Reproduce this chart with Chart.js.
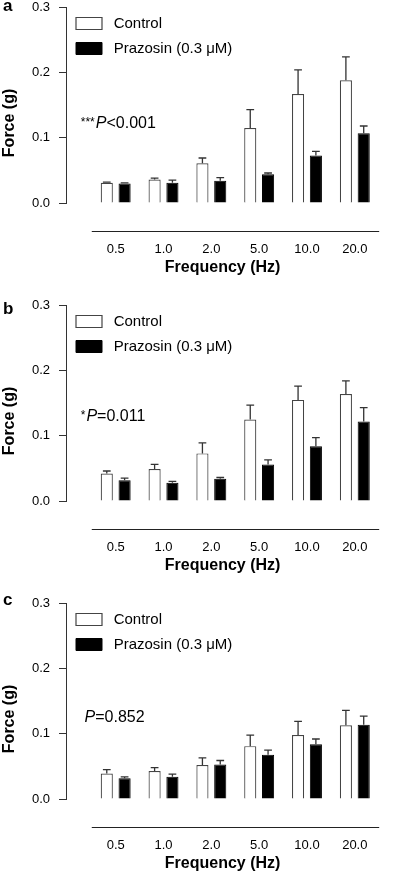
<!DOCTYPE html>
<html>
<head>
<meta charset="utf-8">
<script src="https://cdn.jsdelivr.net/npm/chart.js@4"></script>
<style>
  html, body { margin: 0; padding: 0; background: #fff; overflow: hidden; }
  .panel { position: absolute; left: 0; width: 407px; height: 298px; }
</style>
</head>
<body>
<div class="panel" style="top:0"><canvas id="chart-a" width="407" height="298"></canvas></div>
<div class="panel" style="top:298px"><canvas id="chart-b" width="407" height="298"></canvas></div>
<div class="panel" style="top:596px"><canvas id="chart-c" width="407" height="298"></canvas></div>
<script>
const freqLabels = ['0.5', '1.0', '2.0', '5.0', '10.0', '20.0'];
const seriesNames = [' Control', ' Prazosin (0.3 μM)'];

// panel a
const controlA = [0.031, 0.036, 0.061, 0.115, 0.167, 0.188];
const controlSemA = [0.001, 0.002, 0.008, 0.028, 0.037, 0.036];
const prazA = [0.030, 0.031, 0.034, 0.044, 0.073, 0.107];
const prazSemA = [0.001, 0.004, 0.005, 0.002, 0.006, 0.011];

// panel b
const controlB = [0.042, 0.049, 0.073, 0.125, 0.155, 0.164];
const controlSemB = [0.004, 0.007, 0.016, 0.022, 0.021, 0.020];
const prazB = [0.032, 0.028, 0.034, 0.056, 0.084, 0.122];
const prazSemB = [0.003, 0.002, 0.002, 0.007, 0.013, 0.021];

// panel c
const controlC = [0.039, 0.043, 0.052, 0.081, 0.098, 0.113];
const controlSemC = [0.006, 0.005, 0.011, 0.017, 0.021, 0.023];
const prazC = [0.032, 0.034, 0.053, 0.068, 0.084, 0.114];
const prazSemC = [0.002, 0.004, 0.006, 0.007, 0.008, 0.013];

const axisColor = '#333';
const font = 'Arial, "Liberation Sans", sans-serif';

// upper error bars (mean + SEM)
const errorBars = {
  id: 'errorBars',
  afterDatasetsDraw(chart) {
    const ctx = chart.ctx;
    const y = chart.scales.y;
    ctx.save();
    ctx.strokeStyle = axisColor;
    ctx.lineWidth = 1.3;
    chart.data.datasets.forEach((ds, di) => {
      chart.getDatasetMeta(di).data.forEach((bar, i) => {
        const top = y.getPixelForValue(ds.data[i].y + ds.sem[i]);
        const cap = bar.width * 0.32;
        ctx.beginPath();
        ctx.moveTo(bar.x, bar.y);
        ctx.lineTo(bar.x, top);
        ctx.moveTo(bar.x - cap, top);
        ctx.lineTo(bar.x + cap, top);
        ctx.stroke();
      });
    });
    ctx.restore();
  }
};

// detached x axis line, panel letter and P value text
const extras = {
  id: 'extras',
  afterDraw(chart, args, opts) {
    const ctx = chart.ctx;
    const x = chart.scales.x;
    const y = chart.scales.y;
    const area = chart.chartArea;
    ctx.save();
    ctx.strokeStyle = '#222';
    ctx.lineWidth = 1;
    const ly = Math.round(y.getPixelForValue(-0.043)) + 0.5;
    ctx.beginPath();
    ctx.moveTo(x.getPixelForValue(-0.5), ly);
    ctx.lineTo(area.right, ly);
    ctx.stroke();

    ctx.fillStyle = '#000';
    ctx.textBaseline = 'alphabetic';
    ctx.font = 'bold 17px ' + font;
    ctx.fillText(opts.letter, 3, area.top + opts.letterDy);

    let px = x.getPixelForValue(opts.pX);
    const py = y.getPixelForValue(opts.pY);
    if (opts.stars) {
      ctx.font = '12px ' + font;
      ctx.fillText(opts.stars, px, py - 2);
      px += ctx.measureText(opts.stars).width + 1;
    }
    ctx.font = 'italic 16px ' + font;
    ctx.fillText('P', px, py);
    px += ctx.measureText('P').width;
    ctx.font = '16px ' + font;
    ctx.fillText(opts.rest, px, py);
    ctx.restore();
  }
};

function makePanel(id, control, controlSem, praz, prazSem, extraOpts) {
  return new Chart(document.getElementById(id), {
    type: 'bar',
    data: {
      datasets: [{
        label: seriesNames[0],
        data: control.map((v, i) => ({x: i, y: v})),
        sem: controlSem,
        backgroundColor: '#fff',
        borderColor: '#444',
        borderWidth: 1.2
      }, {
        label: seriesNames[1],
        data: praz.map((v, i) => ({x: i, y: v})),
        sem: prazSem,
        backgroundColor: '#000',
        borderColor: '#000',
        borderWidth: 1
      }]
    },
    options: {
      responsive: false,
      animation: false,
      categoryPercentage: 0.745,
      barPercentage: 0.68,
      layout: { padding: { top: 0, right: 7, bottom: 21, left: 0 } },
      plugins: {
        legend: {
          position: 'chartArea',
          align: 'start',
          title: { display: true, text: '', padding: 0, font: { size: 5 } },
          labels: {
            boxWidth: 26,
            boxHeight: 12,
            padding: 10,
            color: '#000',
            font: { size: 15, family: font }
          },
          onClick: null
        },
        tooltip: { enabled: false },
        extras: extraOpts
      },
      scales: {
        x: {
          type: 'linear',
          offset: false,
          min: -1.039,
          max: 5.51,
          grid: { display: false, tickLength: 0 },
          border: { display: false },
          afterBuildTicks: (s) => { s.ticks = freqLabels.map((_, i) => ({value: i})); },
          afterFit: (s) => { s.height = 74; },
          ticks: {
            padding: 39,
            maxRotation: 0,
            autoSkip: false,
            color: '#000',
            font: { size: 13, family: font },
            callback: (v) => freqLabels[v] ?? ''
          },
          title: {
            display: true,
            text: 'Frequency (Hz)',
            color: '#000',
            padding: { top: 0, bottom: 0 },
            font: { size: 16, weight: 'bold', family: font }
          }
        },
        y: {
          min: 0,
          max: 0.3,
          afterFit: (s) => { s.width = 66; s.paddingTop = 7.3; s.paddingBottom = 0; },
          grid: { drawOnChartArea: false, tickLength: 7, color: axisColor },
          border: { color: axisColor, width: 1 },
          ticks: {
            stepSize: 0.1,
            padding: 9,
            color: '#000',
            font: { size: 13, family: font },
            callback: (v) => v.toFixed(1)
          },
          title: {
            display: true,
            text: 'Force (g)        ',
            color: '#000',
            padding: 0,
            font: { size: 16, weight: 'bold', family: font }
          }
        }
      }
    },
    plugins: [errorBars, extras]
  });
}

makePanel('chart-a', controlA, controlSemA, prazA, prazSemA,
  { letter: 'a', letterDy: 4, stars: '***', rest: '<0.001', pX: -0.73, pY: 0.115 });
makePanel('chart-b', controlB, controlSemB, prazB, prazSemB,
  { letter: 'b', letterDy: 9, stars: '*', rest: '=0.011', pX: -0.73, pY: 0.122 });
makePanel('chart-c', controlC, controlSemC, prazC, prazSemC,
  { letter: 'c', letterDy: 2, stars: '', rest: '=0.852', pX: -0.65, pY: 0.118 });
</script>
</body>
</html>
